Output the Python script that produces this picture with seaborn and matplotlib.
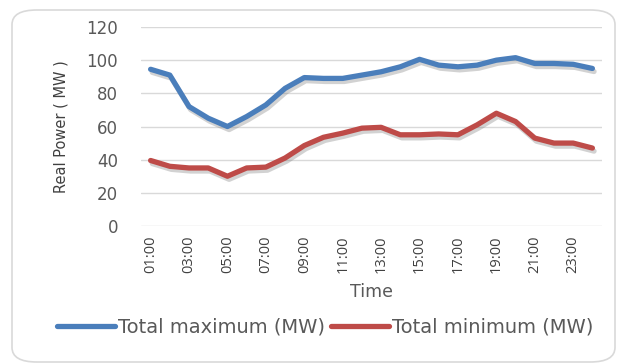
import matplotlib
matplotlib.use("Agg")
import matplotlib.pyplot as plt
import matplotlib.patheffects as pe
from matplotlib.patches import FancyBboxPatch
from matplotlib.lines import Line2D
import seaborn as sns
import pandas as pd

hours = [f"{h:02d}:00" for h in range(1, 25)]
total_max = [94.5, 91, 72, 65, 60, 66, 73, 83, 89.5, 89, 89, 91,
             93, 96, 100.5, 97, 96, 97, 100, 101.5, 98, 98, 97.5, 95]
total_min = [39.5, 36, 35, 35, 30, 35, 35.5, 41, 48.5, 53.5, 56, 59,
             59.5, 55, 55, 55.5, 55, 61, 68, 63, 53, 50, 50, 47]
series_names = ["Total maximum (MW)", "Total minimum (MW)"]
colors = ["#4a7ebb", "#be4b48"]
y_ticks = [0, 20, 40, 60, 80, 100, 120]

df = pd.DataFrame({"Time": hours, series_names[0]: total_max,
                   series_names[1]: total_min})
long_df = df.melt(id_vars="Time", var_name="Series", value_name="MW")

sns.set_theme(style="white")
plt.rcParams["font.family"] = ["DejaVu Sans"]

fig = plt.figure(figsize=(6.2, 3.64), dpi=100)
fig.patch.set_facecolor("white")

# rounded chart frame
frame = FancyBboxPatch((12 / 620, 2 / 364), 603 / 620, 352 / 364,
                       boxstyle="round,pad=0,rounding_size=0.04",
                       transform=fig.transFigure, facecolor="white",
                       edgecolor="#d9d9d9", linewidth=1.2, zorder=-5)
fig.patches.append(frame)

ax = fig.add_axes([141 / 620, 1 - 226 / 364, 461 / 620, 199 / 364])
ax.set_zorder(2)
ax.set_facecolor("none")

sns.lineplot(data=long_df, x="Time", y="MW", hue="Series",
             palette=colors, linewidth=3.8, legend=False, ax=ax, sort=False)
for line in ax.lines:
    line.set_solid_joinstyle("round")
    line.set_solid_capstyle("round")
    line.set_path_effects([
        pe.SimpleLineShadow(offset=(1.2, -2.2), shadow_color="#808080",
                            alpha=0.35, rho=0.3),
        pe.Normal()])

ax.set_xlim(-0.5, 23.5)
ax.set_ylim(0, 120)
ax.set_yticks(y_ticks)
ax.set_yticklabels([str(v) for v in y_ticks], fontsize=12, color="#595959")
ax.set_xticks(range(0, 24, 2))
ax.set_xticklabels(hours[::2], rotation=90, fontsize=10.5, color="#404040",
                   family=["Open Sans", "DejaVu Sans"])
ax.tick_params(axis="x", length=0, pad=7)
ax.tick_params(axis="y", length=0, pad=16.5)
ax.grid(axis="y", color="#d9d9d9", linewidth=1)
ax.set_axisbelow(True)
for s in ax.spines.values():
    s.set_visible(False)

ax.set_xlabel("Time", fontsize=12.5, color="#595959")
ax.xaxis.set_label_coords(0.5, -(292 - 226) / 199)
ax.xaxis.label.set_va("center")
ax.set_ylabel("Real Power ( MW )", fontsize=10.5, color="#404040")
ax.yaxis.set_label_coords(-(141 - 61) / 461, 0.5)
ax.yaxis.label.set_va("center")

handles = [Line2D([0], [0], color=c, linewidth=3.8) for c in colors]
fig.legend(handles, series_names, loc="center", ncol=2,
           bbox_to_anchor=(325 / 620, 1 - 327 / 364), frameon=False,
           fontsize=14, labelcolor="#595959", handlelength=3.0,
           handletextpad=0.15, columnspacing=0.3)

fig.savefig("out.png", dpi=100)
